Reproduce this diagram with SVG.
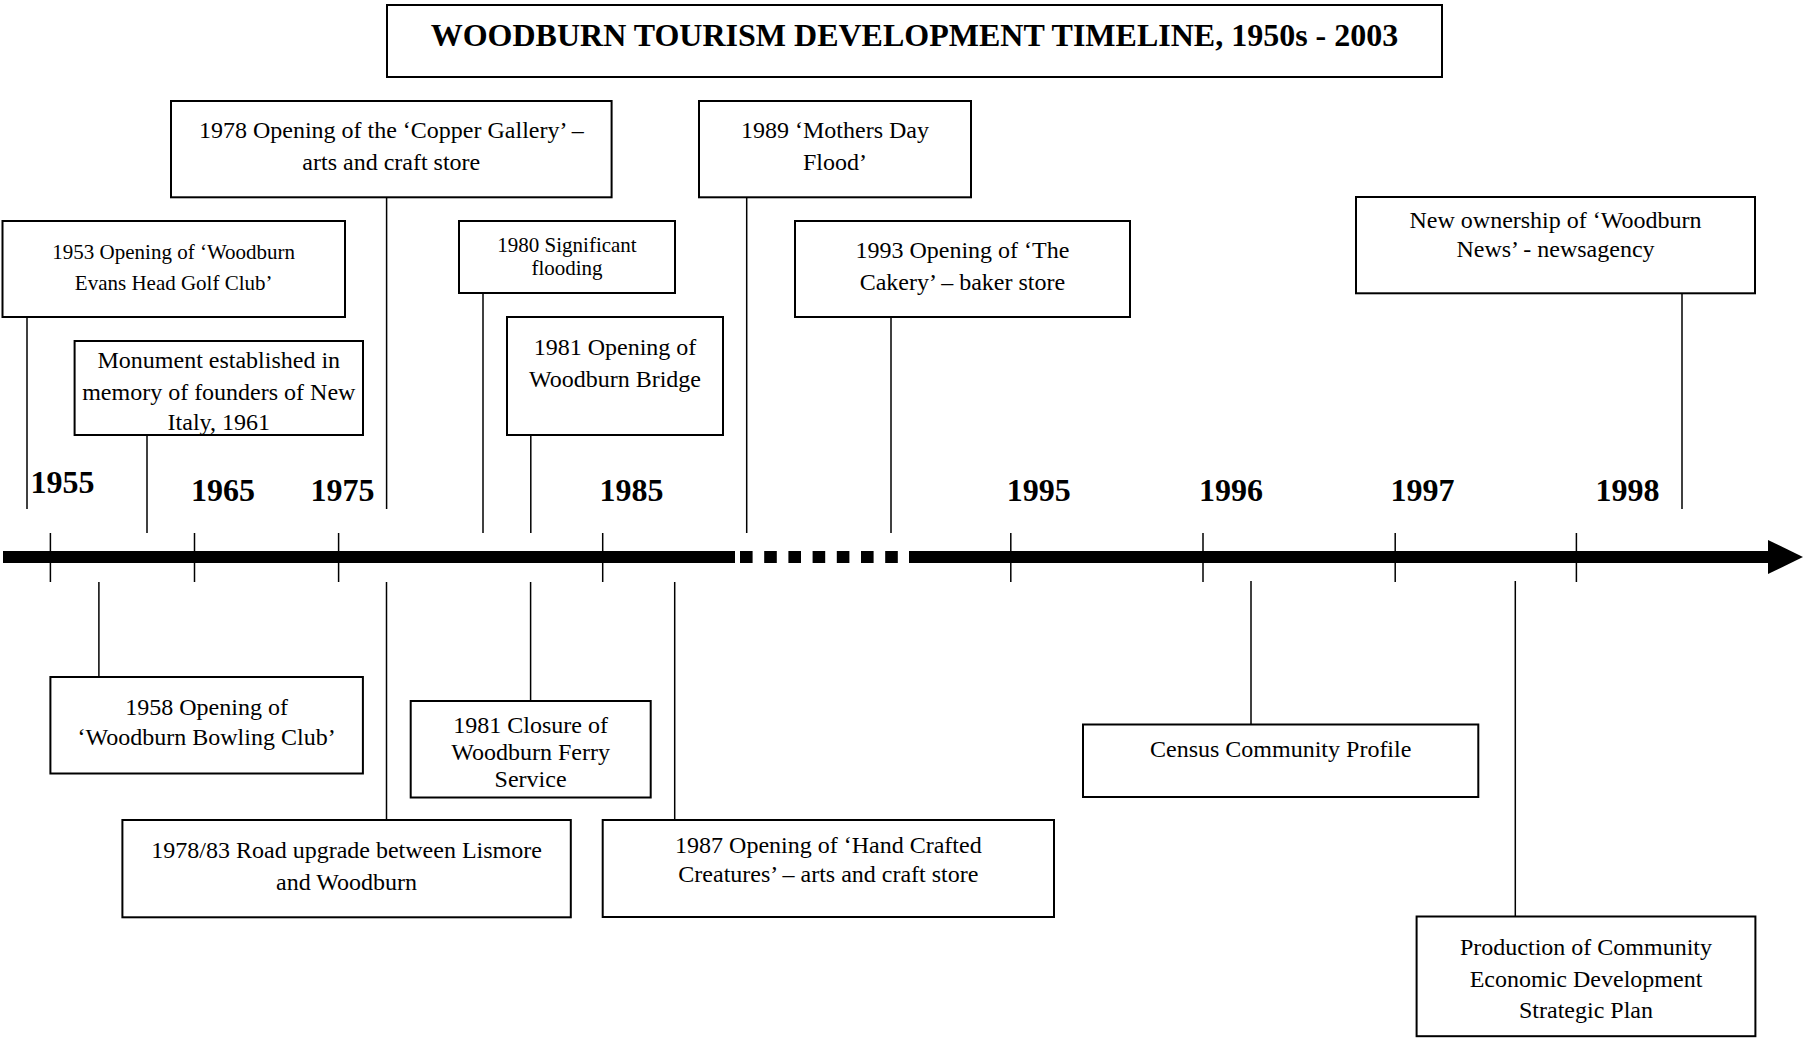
<svg xmlns="http://www.w3.org/2000/svg" width="1805" height="1039" viewBox="0 0 1805 1039">
<style>
.box{fill:#fff;stroke:#000;stroke-width:2}
.t{font-family:"Liberation Serif","Times New Roman",serif;font-size:24px;text-anchor:middle;fill:#000}
.s{font-size:21px}
.ttl{font-family:"Liberation Serif","Times New Roman",serif;font-size:32px;font-weight:bold;text-anchor:middle;fill:#000}
.yr{font-family:"Liberation Serif","Times New Roman",serif;font-size:32px;font-weight:bold;fill:#000}
.ln{stroke:#000;stroke-width:1.5;fill:none}
</style>
<rect width="1805" height="1039" fill="#fff"/>
<g id="title">
<rect class="box" x="387" y="5" width="1055" height="72"/>
<text class="ttl" x="914.5" y="46">WOODBURN TOURISM DEVELOPMENT TIMELINE, 1950s - 2003</text>
</g>
<g id="axis">
<rect x="3" y="551" width="732" height="12" fill="#000"/>
<line x1="740" y1="557" x2="898" y2="557" stroke="#000" stroke-width="12" stroke-dasharray="12.6 11.6"/>
<rect x="909" y="551" width="861" height="12" fill="#000"/>
<polygon points="1768,540 1803,557 1768,574" fill="#000"/>
<g class="ln">
<line x1="50.4" y1="533" x2="50.4" y2="582"/>
<line x1="194.5" y1="533" x2="194.5" y2="582"/>
<line x1="338.6" y1="533" x2="338.6" y2="582"/>
<line x1="602.7" y1="533" x2="602.7" y2="582"/>
<line x1="1010.8" y1="533" x2="1010.8" y2="582"/>
<line x1="1203" y1="533" x2="1203" y2="582"/>
<line x1="1395.2" y1="533" x2="1395.2" y2="582"/>
<line x1="1576.4" y1="533" x2="1576.4" y2="582"/>
</g>
<text class="yr" x="30.6" y="493">1955</text>
<text class="yr" x="191" y="501">1965</text>
<text class="yr" x="310.6" y="501">1975</text>
<text class="yr" x="599.5" y="501">1985</text>
<text class="yr" x="1006.8" y="501">1995</text>
<text class="yr" x="1199" y="501">1996</text>
<text class="yr" x="1390.6" y="501">1997</text>
<text class="yr" x="1595.5" y="501">1998</text>
</g>
<g id="connectors" class="ln">
<line x1="27" y1="317" x2="27" y2="509"/>
<line x1="147" y1="435" x2="147" y2="533"/>
<line x1="386.6" y1="197.3" x2="386.6" y2="509"/>
<line x1="483" y1="293" x2="483" y2="533"/>
<line x1="530.8" y1="435" x2="530.8" y2="533"/>
<line x1="746.7" y1="197.3" x2="746.7" y2="533"/>
<line x1="891" y1="316.7" x2="891" y2="533"/>
<line x1="1682" y1="293.3" x2="1682" y2="509"/>
<line x1="98.9" y1="582" x2="98.9" y2="677"/>
<line x1="386.5" y1="582" x2="386.5" y2="820"/>
<line x1="530.6" y1="582" x2="530.6" y2="701"/>
<line x1="674.7" y1="582" x2="674.7" y2="820"/>
<line x1="1251" y1="581" x2="1251" y2="724.5"/>
<line x1="1515.3" y1="581" x2="1515.3" y2="916.5"/>
</g>
<g id="n1978copper">
<rect class="box" x="171" y="101" width="440.6" height="96.3"/>
<text class="t" x="391.3" y="138">1978 Opening of the ‘Copper Gallery’ –</text>
<text class="t" x="391.3" y="170">arts and craft store</text>
</g>
<g id="n1953golf">
<rect class="box" x="2.5" y="221" width="342.5" height="96"/>
<text class="t s" x="173.7" y="259">1953 Opening of ‘Woodburn</text>
<text class="t s" x="173.7" y="290">Evans Head Golf Club’</text>
</g>
<g id="nMonument">
<rect class="box" x="74.6" y="341" width="288.4" height="94"/>
<text class="t" x="218.8" y="368">Monument established in</text>
<text class="t" x="218.8" y="400">memory of founders of New</text>
<text class="t" x="218.8" y="430">Italy, 1961</text>
</g>
<g id="n1980flood">
<rect class="box" x="459" y="221" width="216" height="72"/>
<text class="t s" x="567" y="252">1980 Significant</text>
<text class="t s" x="567" y="275">flooding</text>
</g>
<g id="n1981bridge">
<rect class="box" x="507" y="317" width="216" height="118"/>
<text class="t" x="615" y="355">1981 Opening of</text>
<text class="t" x="615" y="387">Woodburn Bridge</text>
</g>
<g id="n1989flood">
<rect class="box" x="699" y="101" width="272" height="96.3"/>
<text class="t" x="835" y="138">1989 ‘Mothers Day</text>
<text class="t" x="835" y="170">Flood’</text>
</g>
<g id="n1993cakery">
<rect class="box" x="795" y="221" width="335" height="96"/>
<text class="t" x="962.4" y="258">1993 Opening of ‘The</text>
<text class="t" x="962.4" y="290">Cakery’ – baker store</text>
</g>
<g id="nNews">
<rect class="box" x="1356" y="197" width="399" height="96.3"/>
<text class="t" x="1555.5" y="228">New ownership of ‘Woodburn</text>
<text class="t" x="1555.5" y="257">News’ - newsagency</text>
</g>
<g id="n1958bowling">
<rect class="box" x="50.4" y="677" width="312.5" height="96.5"/>
<text class="t" x="206.6" y="715">1958 Opening of</text>
<text class="t" x="206.6" y="745">‘Woodburn Bowling Club’</text>
</g>
<g id="n1981ferry">
<rect class="box" x="410.7" y="701" width="240" height="96.5"/>
<text class="t" x="530.6" y="733">1981 Closure of</text>
<text class="t" x="530.6" y="760">Woodburn Ferry</text>
<text class="t" x="530.6" y="787">Service</text>
</g>
<g id="nRoad">
<rect class="box" x="122.4" y="820" width="448.4" height="97.3"/>
<text class="t" x="346.6" y="858">1978/83 Road upgrade between Lismore</text>
<text class="t" x="346.6" y="890">and Woodburn</text>
</g>
<g id="n1987creatures">
<rect class="box" x="602.7" y="820" width="451.3" height="97"/>
<text class="t" x="828.4" y="853">1987 Opening of ‘Hand Crafted</text>
<text class="t" x="828.4" y="882">Creatures’ – arts and craft store</text>
</g>
<g id="nCensus">
<rect class="box" x="1083" y="724.5" width="395.3" height="72.5"/>
<text class="t" x="1280.7" y="757">Census Community Profile</text>
</g>
<g id="nStrategic">
<rect class="box" x="1416.6" y="916.5" width="338.8" height="119.7"/>
<text class="t" x="1586" y="955">Production of Community</text>
<text class="t" x="1586" y="987">Economic Development</text>
<text class="t" x="1586" y="1018">Strategic Plan</text>
</g>
</svg>
